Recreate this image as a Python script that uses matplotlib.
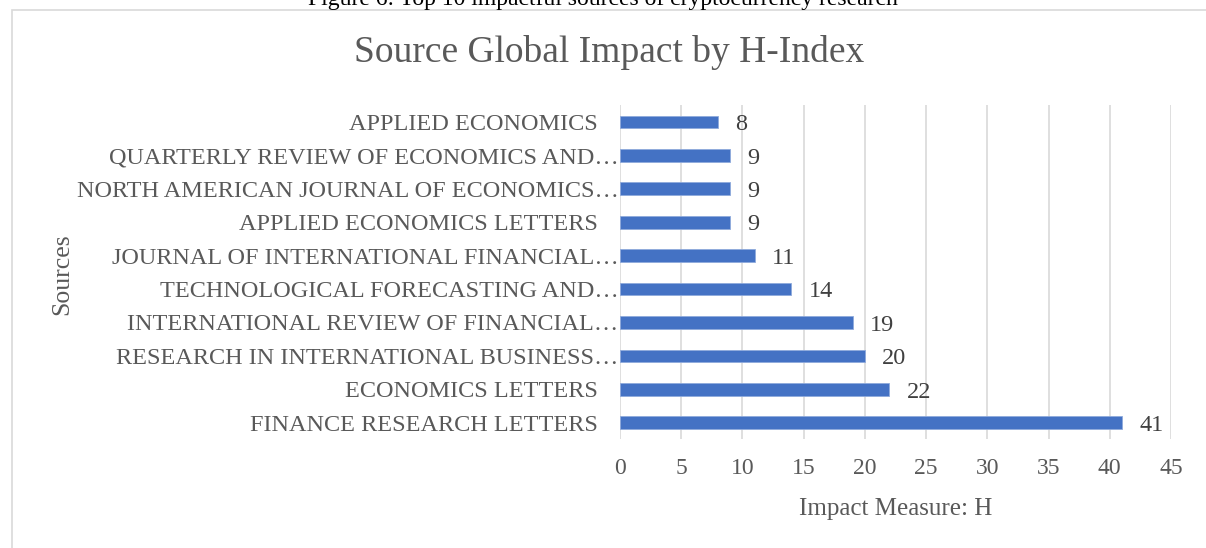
import matplotlib.pyplot as plt
from matplotlib.patches import Rectangle

plt.rcParams['font.family'] = ['Liberation Serif', 'DejaVu Serif']

sources = [
    "FINANCE RESEARCH LETTERS",
    "ECONOMICS LETTERS",
    "RESEARCH IN INTERNATIONAL BUSINESS…",
    "INTERNATIONAL REVIEW OF FINANCIAL…",
    "TECHNOLOGICAL FORECASTING AND…",
    "JOURNAL OF INTERNATIONAL FINANCIAL…",
    "APPLIED ECONOMICS LETTERS",
    "NORTH AMERICAN JOURNAL OF ECONOMICS…",
    "QUARTERLY REVIEW OF ECONOMICS AND…",
    "APPLIED ECONOMICS",
]
h_index = [41, 22, 20, 19, 14, 11, 9, 9, 9, 8]
xticks = [0, 5, 10, 15, 20, 25, 30, 35, 40, 45]

fig = plt.figure(figsize=(12.06, 5.48), dpi=100)
ax = fig.add_axes([0.514, 0.198, 0.457, 0.61])

# chart frame and cut-off caption
fig.patches.append(Rectangle((0.01, -0.05), 1.2, 1.032, transform=fig.transFigure,
                             fill=False, edgecolor='#D9D9D9', linewidth=1.2))
fig.text(0.5, 1.0, "Figure 6: Top 10 impactful sources of cryptocurrency research",
         ha='center', va='center', fontsize=17, color='black')

bars = ax.barh(range(len(sources)), h_index, height=0.38, color='#4472C4',
               edgecolor='#8FAADC', linewidth=0.6, zorder=3)
for i, v in enumerate(h_index):
    ax.text(v + 1.4, i - 0.08, str(v), va='center', ha='left', fontsize=17.5,
            color='#404040')

ax.set_xlim(0, 45)
ax.set_ylim(-0.5, len(sources) - 0.5)
ax.set_xticks(xticks)
ax.set_yticks(range(len(sources)))
ax.set_yticklabels(sources)
ax.tick_params(axis='y', length=0, labelsize=17.5, labelcolor='#595959')
ax.tick_params(axis='x', length=0, pad=13, labelsize=17, labelcolor='#595959')
# truncated labels run up to the axis, full ones keep a gap (excel style)
for tick, name in zip(ax.yaxis.get_major_ticks(), sources):
    tick.set_pad(1 if name.endswith("…") else 16)
ax.grid(axis='x', color='#D9D9D9', linewidth=1.2, zorder=0)
for s in ax.spines.values():
    s.set_visible(False)

ax.set_xlabel("Impact Measure: H", fontsize=18, color='#595959', labelpad=14)
fig.text(0.052, 0.50, "Sources", rotation=90, ha='center', va='center',
         fontsize=18.5, color='#595959')
fig.text(0.505, 0.905, "Source Global Impact by H-Index", ha='center', va='center',
         fontsize=27, color='#595959')

fig.savefig("out.png", dpi=100)
